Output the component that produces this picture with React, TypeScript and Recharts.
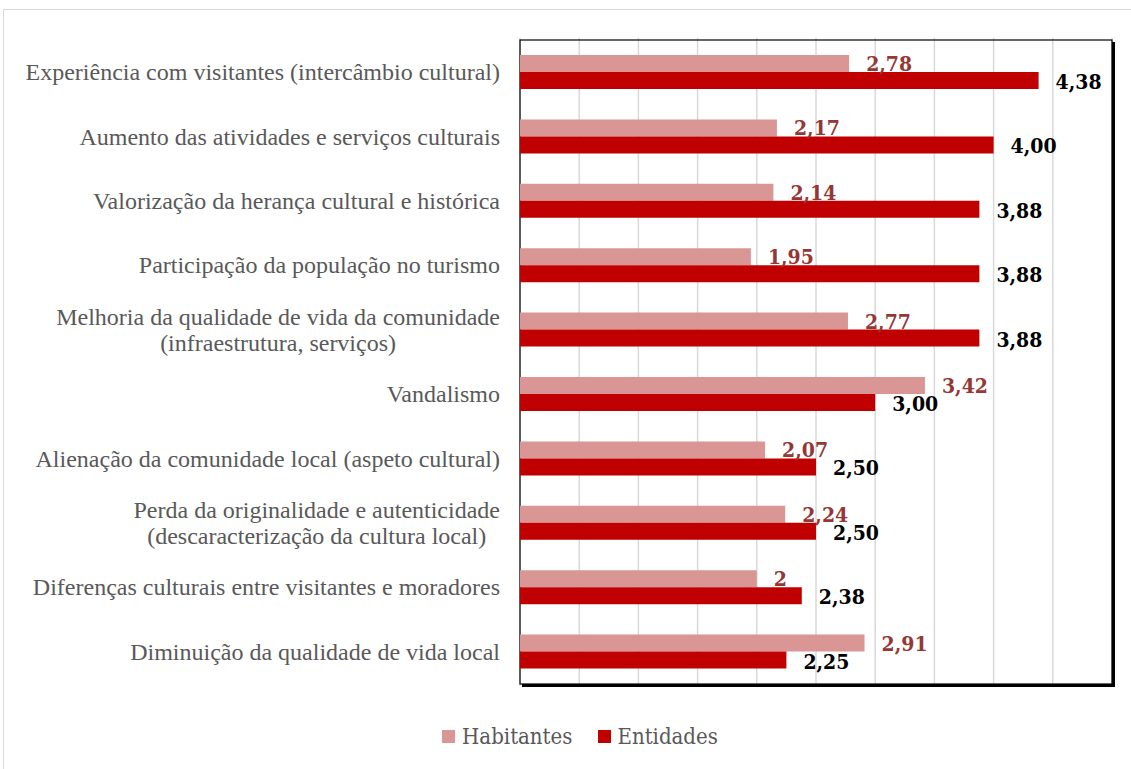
import React from 'react';
import { BarChart, Bar, XAxis, YAxis, CartesianGrid, Legend, LabelList, ReferenceArea } from 'recharts';

const categories = [
  'Experiência com visitantes (intercâmbio cultural)',
  'Aumento das atividades e serviços culturais',
  'Valorização da herança cultural e histórica',
  'Participação da população no turismo',
  'Melhoria da qualidade de vida da comunidade\n(infraestrutura, serviços)',
  'Vandalismo',
  'Alienação da comunidade local (aspeto cultural)',
  'Perda da originalidade e autenticidade\n(descaracterização da cultura local)',
  'Diferenças culturais entre visitantes e moradores',
  'Diminuição da qualidade de vida local',
];
const habitantes = [2.78, 2.17, 2.14, 1.95, 2.77, 3.42, 2.07, 2.24, 2, 2.91];
const entidades = [4.38, 4.0, 3.88, 3.88, 3.88, 3.0, 2.5, 2.5, 2.38, 2.25];
const xTicks = [0, 0.5, 1, 1.5, 2, 2.5, 3, 3.5, 4, 4.5, 5];

const data = categories.map((name, i) => ({ name, habitantes: habitantes[i], entidades: entidades[i] }));

const CAT_FONT = 'Liberation Serif, Times New Roman, serif';
const CAT_SIZE = 24;
const LABEL_FONT = 'DejaVu Serif Condensed, DejaVu Serif, serif';

let ctx: CanvasRenderingContext2D | null = null;
const measure = (t: string) => {
  if (!ctx) ctx = document.createElement('canvas').getContext('2d');
  if (!ctx) return t.length * CAT_SIZE * 0.45;
  ctx.font = `${CAT_SIZE}px "Liberation Serif"`;
  return ctx.measureText(t).width;
};

const CategoryTick = (props: any) => {
  const { x, y, payload } = props;
  const lines = String(payload.value).split('\n');
  const right = x - 12;
  const lh = 26;
  const w = Math.max(...lines.map(measure));
  const cx = right - w / 2;
  const start = y - ((lines.length - 1) * lh) / 2;
  return (
    <g>
      {lines.map((l, i) => (
        <text
          key={i}
          x={lines.length > 1 ? cx : right}
          y={start + i * lh}
          textAnchor={lines.length > 1 ? 'middle' : 'end'}
          dominantBaseline="central"
          fontFamily={CAT_FONT}
          fontSize={CAT_SIZE}
          fill="#595959"
        >
          {l}
        </text>
      ))}
    </g>
  );
};

const makeLabel = (color: string, fmt: (v: number) => string, dy: number) => (props: any) => {
  const { x, y, width, height, value } = props;
  return (
    <text
      x={x + width + 17}
      y={y + height / 2 + dy}
      dominantBaseline="central"
      fontFamily={LABEL_FONT}
      fontWeight="bold"
      fontSize={21}
      fill={color}
    >
      {fmt(value)}
    </text>
  );
};

const fmtHab = (v: number) => String(v).replace('.', ',');
const fmtEnt = (v: number) => v.toFixed(2).replace('.', ',');

const PlotBox = (props: any) => {
  const { x, y, width, height } = props;
  return (
    <g>
      <line x1={x + width + 1.5} y1={y + 2} x2={x + width + 1.5} y2={y + height + 3} stroke="#000" strokeWidth={3} />
      <line x1={x + 2} y1={y + height + 1.5} x2={x + width + 3} y2={y + height + 1.5} stroke="#000" strokeWidth={3} />
      <rect x={x} y={y} width={width} height={height} fill="none" stroke="#000" strokeWidth={1.2} />
    </g>
  );
};

const LegendContent = () => (
  <div style={{ display: 'flex', justifyContent: 'center', alignItems: 'center', height: 30, paddingLeft: 24, fontFamily: LABEL_FONT, fontSize: 22, color: '#595959' }}>
    <span style={{ display: 'inline-block', width: 13, height: 13, background: '#D99694', marginRight: 7 }} />
    <span style={{ marginRight: 26 }}>Habitantes</span>
    <span style={{ display: 'inline-block', width: 13, height: 13, background: '#C00000', marginRight: 6 }} />
    <span>Entidades</span>
  </div>
);

export default function App() {
  return (
    <div style={{ position: 'absolute', left: 3, top: 9, width: 1140, height: 770, border: '1px solid #d9d9d9', background: '#fff' }}>
      <BarChart
        width={1128}
        height={760}
        data={data}
        layout="vertical"
        margin={{ top: 28, right: 20, bottom: 54, left: 0 }}
        barGap={0}
      >
        <CartesianGrid horizontal={false} stroke="#d9d9d9" strokeWidth={1.5} />
        <XAxis type="number" domain={[0, 5]} ticks={xTicks} hide />
        <YAxis
          type="category"
          dataKey="name"
          width={516}
          axisLine={false}
          tickLine={false}
          interval={0}
          tick={<CategoryTick />}
          padding={{ top: 2, bottom: 2 }}
        />
        <ReferenceArea x1={0} x2={5} shape={<PlotBox />} ifOverflow="visible" />
        <Bar dataKey="habitantes" name="Habitantes" fill="#D99694" barSize={17} isAnimationActive={false}>
          <LabelList dataKey="habitantes" content={makeLabel('#953735', fmtHab, 0)} />
        </Bar>
        <Bar dataKey="entidades" name="Entidades" fill="#C00000" barSize={17} isAnimationActive={false}>
          <LabelList dataKey="entidades" content={makeLabel('#000000', fmtEnt, 1)} />
        </Bar>
        <Legend
          verticalAlign="bottom"
          content={<LegendContent />}
          wrapperStyle={{ top: 711, left: 0, width: 1128, height: 30 }}
        />
      </BarChart>
    </div>
  );
}
